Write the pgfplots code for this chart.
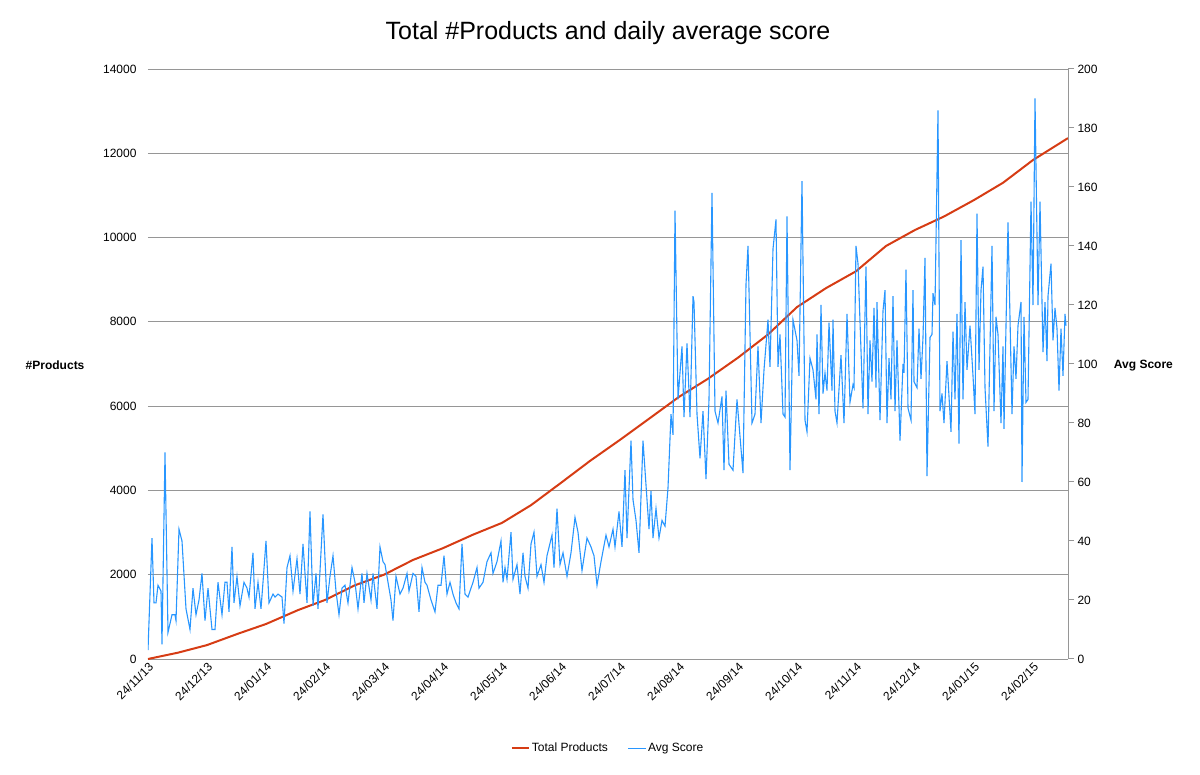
\documentclass[border=0pt]{standalone}
\usepackage{pgfplots}
\pgfplotsset{compat=1.18}
\usepackage{fontspec}
\setmainfont{Liberation Sans}
\definecolor{redl}{RGB}{214,60,20}
\definecolor{bluel}{RGB}{40,150,255}
\definecolor{gridg}{RGB}{150,150,150}
\begin{document}
\begin{tikzpicture}
\path[use as bounding box] (-148pt,-116pt) rectangle (1052pt,659pt);
\begin{axis}[
  at={(0pt,0pt)}, anchor=south west,
  scale only axis, width=920pt, height=590pt,
  xmin=0, xmax=920, ymin=0, ymax=14000,
  axis x line*=bottom, axis y line*=left,
  x axis line style={gridg},
  y axis line style={draw=none},
  ytick={0,2000,...,14000}, ymajorgrids,
  grid style={gridg, line width=0.8pt},
  xtick={0,59,118,177,236,295,354,413,472,531,590,649,708,767,826,885},
  xticklabels={24/11/13,24/12/13,24/01/14,24/02/14,24/03/14,24/04/14,24/05/14,24/06/14,24/07/14,24/08/14,24/09/14,24/10/14,24/11/14,24/12/14,24/01/15,24/02/15},
  x tick label style={rotate=45, anchor=north east, font=\fontsize{12}{14}\selectfont, inner sep=2pt},
  major tick length=0pt,
  scaled y ticks=false,
  /pgf/number format/assume math mode=true,
  /pgf/number format/set thousands separator={},
  y tick label style={font=\fontsize{12}{14}\selectfont, xshift=-8pt},
  clip=false,
]
\addplot[redl, line width=2pt] coordinates {
(0,0)(30,150)(59,330)(90,600)(118,830)(150,1160)(177,1400)(207,1750)(236,2000)(265,2350)(295,2630)(325,2950)(354,3230)(383,3650)(413,4180)(442,4700)(472,5200)(501,5700)(531,6220)(560,6650)(590,7150)(620,7700)(649,8350)(678,8800)(708,9200)(738,9800)(767,10180)(796,10500)(826,10890)(855,11300)(885,11840)(920,12360)};
\node[font=\bfseries\fontsize{12}{14}\selectfont] at (rel axis cs:-0.101,0.498) {\#Products};
\node[font=\bfseries\fontsize{12}{14}\selectfont] at (rel axis cs:1.082,0.498) {Avg Score};
\node[font=\fontsize{25}{30}\selectfont] at (rel axis cs:0.5,1.061) {Total \#Products and daily average score};
\end{axis}
\begin{axis}[
  at={(0pt,0pt)}, anchor=south west,
  scale only axis, width=920pt, height=590pt,
  xmin=0, xmax=920, ymin=0, ymax=200,
  axis x line=none, axis y line*=right,
  y axis line style={gridg, line width=1pt},
  ytick={0,20,...,200},
  ytick style={gridg, line width=1pt},
  tick align=outside, major tick length=6pt,
  /pgf/number format/assume math mode=true,
  y tick label style={font=\fontsize{12}{14}\selectfont},
  legend style={at={(0.5,-0.151)}, anchor=center, draw=none, legend columns=2,
    font=\fontsize{12}{14}\selectfont, /tikz/every even column/.append style={column sep=18pt}},
  legend cell align=left,
]
\addlegendimage{redl, line width=2pt}
\addlegendentry{Total Products}
\addplot[bluel, line width=1.1pt] coordinates {
(0,3)(4,41)(6,19)(8,19)(10,25)(13,23)(14,5)(17,70)(20,9)(24,15)(27,15)(28,13)(31,44)(34,40)(38,17)(42,10)(45,24)(48,15)(51,20)(54,29)(57,13)(60,24)(64,10)(67,10)(70,26)(74,15)(77,26)(79,26)(81,16)(84,38)(86,19)(89,28)(92,18)(96,26)(99,24)(101,21)(105,36)(107,17)(110,26)(113,17)(115,26)(118,40)(121,19)(125,22)(127,21)(130,22)(134,21)(136,12)(139,31)(142,35)(145,23)(149,34)(152,22)(155,39)(159,19)(162,50)(165,18)(168,29)(170,17)(175,49)(179,19)(182,28)(185,35)(188,23)(191,15)(194,24)(197,25)(200,19)(204,31)(207,26)(210,17)(214,29)(216,19)(219,29)(223,20)(225,29)(229,17)(232,38)(235,33)(237,32)(240,26)(243,20)(245,13)(248,28)(252,22)(255,24)(259,29)(261,23)(265,29)(268,28)(271,16)(274,31)(277,26)(279,25)(283,20)(287,16)(290,25)(293,25)(296,35)(299,22)(302,26)(305,22)(308,19)(311,17)(314,39)(317,22)(320,21)(323,24)(325,26)(329,31)(331,24)
(335,26)(339,33)(343,36)(345,29)(349,33)(353,40)(355,26)(357,31)(359,27)(363,43)(365,27)(369,32)(372,22)(375,36)(377,28)(380,24)(383,39)(386,43)(389,28)(393,32)(396,26)(399,35)(404,42)(406,31)(409,51)(412,32)(415,36)(419,28)(423,36)(427,48)(430,43)(434,30)(439,41)(443,38)(446,35)(449,25)(453,33)(458,42)(461,38)(465,44)(467,38)(471,50)(474,38)(477,64)(479,41)(483,74)(485,54)(488,47)(491,36)(495,74)(498,59)(501,44)(503,57)(505,41)(508,51)(511,41)(514,47)(517,45)(520,58)(523,83)(525,76)(527,152)(530,88)(534,106)(536,82)(539,107)(542,82)(545,123)(546,121)(549,83)(552,68)(555,84)(558,61)(561,88)(564,158)(567,84)(570,80)(574,89)(576,64)(578,91)(581,66)(585,64)(589,88)(595,63)(598,127)(600,140)(604,80)(607,83)(610,106)(613,80)(616,98)(620,115)(622,99)(625,139)(628,149)(630,99)
(632,110)(635,83)(637,82)(639,150)(642,64)(645,115)(649,108)(651,96)(654,162)(657,81)(659,77)(662,102)(665,98)(668,88)(669,110)(671,83)(673,120)(675,90)(677,97)(679,91)(681,114)(684,91)(685,115)(687,84)(689,80)(693,103)(696,80)(699,117)(702,87)(705,93)(706,92)(708,140)(710,134)(715,85)(718,133)(720,83)(722,108)(724,94)(726,119)(728,92)(729,121)(732,81)(735,118)(737,125)(739,80)(741,102)(743,88)(745,123)(747,84)(749,108)(752,74)(755,100)(756,97)(758,132)(760,85)(763,81)(765,125)(766,94)(769,92)(771,112)(773,95)(775,109)(777,136)(779,62)(782,109)(784,110)(785,124)(787,120)(790,186)(792,84)(794,90)(796,80)(799,101)(803,77)(805,111)(807,88)(809,117)(811,73)(813,142)(815,88)(817,121)(819,98)(822,113)(825,96)(827,83)(829,151)(831,98)(833,125)(835,133)(837,92)(840,72)(844,140)(846,84)(848,116)(850,110)(853,80)(855,106)(856,78)(860,148)(864,83)(866,106)(868,95)(870,113)(873,121)(874,60)(876,116)(878,87)(880,88)(883,155)(885,120)(887,190)(890,120)(892,155)(895,104)(897,121)(899,101)(900,123)(903,134)(905,108)(907,119)(909,112)(911,91)(913,112)(915,96)(917,117)(918,113)};
\addlegendentry{Avg Score}
\end{axis}
\end{tikzpicture}
\end{document}
